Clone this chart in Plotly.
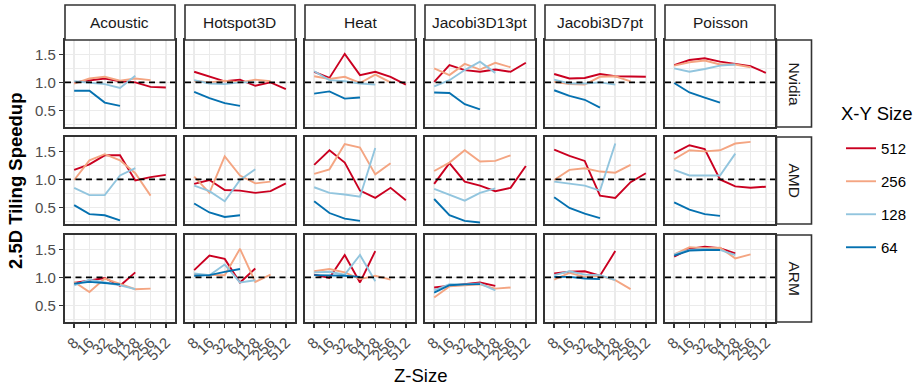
import plotly.graph_objects as go

# ---------------- data ----------------
Z_SIZES = ["8", "16", "32", "64", "128", "256", "512"]
BENCHMARKS = ["Acoustic", "Hotspot3D", "Heat", "Jacobi3D13pt", "Jacobi3D7pt", "Poisson"]
PLATFORMS = ["Nvidia", "AMD", "ARM"]
XY_SIZES = ["512", "256", "128", "64"]
COLORS = ["#CA0020", "#F4A582", "#92C5DE", "#0571B0"]

# each list: one sub-list per benchmark (order of BENCHMARKS), values over Z_SIZES
nvidia_512 = [[1.00, 1.03, 1.07, 1.02, 1.00, 0.92, 0.91],
              [1.19, 1.10, 1.02, 1.05, 0.94, 1.00, 0.88],
              [1.19, 1.08, 1.51, 1.13, 1.19, 1.10, 0.96],
              [1.01, 1.31, 1.22, 1.19, 1.23, 1.19, 1.35],
              [1.15, 1.07, 1.08, 1.15, 1.11, 1.10, 1.10],
              [1.31, 1.40, 1.43, 1.37, 1.33, 1.29, 1.17]]
nvidia_256 = [[0.98, 1.07, 1.10, 1.03, 1.07, 1.04],
              [1.03, 1.00, 1.03, 1.00, 1.05, 1.02],
              [1.11, 1.06, 1.10, 0.99, 1.14, 1.00],
              [1.25, 1.13, 1.33, 1.23, 1.35, 1.27],
              [1.01, 0.97, 0.96, 1.10, 1.11, 1.02],
              [1.30, 1.36, 1.39, 1.32, 1.32, 1.27]]
nvidia_128 = [[1.02, 1.00, 0.97, 0.90, 1.12],
              [1.04, 0.98, 0.97, 1.00, 1.00],
              [1.20, 1.04, 1.02, 0.98, 0.96],
              [0.93, 1.04, 1.22, 1.37, 1.17],
              [1.05, 0.98, 0.98, 1.00, 0.96],
              [1.25, 1.19, 1.24, 1.30, 1.32]]
nvidia_64 = [[0.85, 0.85, 0.64, 0.58],
             [0.83, 0.72, 0.63, 0.58],
             [0.80, 0.84, 0.71, 0.73],
             [0.82, 0.81, 0.61, 0.52],
             [0.86, 0.76, 0.69, 0.55],
             [0.99, 0.82, 0.73, 0.64]]

amd_512 = [[1.17, 1.27, 1.43, 1.43, 0.98, 1.04, 1.08],
           [0.92, 0.99, 0.81, 0.80, 0.76, 0.79, 0.93],
           [1.26, 1.52, 1.30, 0.80, 0.67, 0.85, 0.63],
           [0.92, 1.29, 0.96, 0.89, 0.79, 0.85, 1.24],
           [1.53, 1.42, 1.33, 0.71, 0.67, 0.95, 1.11],
           [1.47, 1.61, 1.54, 1.00, 0.875, 0.85, 0.87]]
amd_256 = [[0.99, 1.34, 1.45, 1.34, 1.11, 0.71],
           [1.05, 0.76, 1.41, 1.07, 0.93, 0.96],
           [1.10, 1.18, 1.63, 1.57, 1.09, 1.29],
           [1.15, 1.30, 1.52, 1.32, 1.33, 1.43],
           [0.99, 1.17, 1.20, 1.14, 1.12, 1.26],
           [1.36, 1.52, 1.50, 1.52, 1.64, 1.67]]
amd_128 = [[0.85, 0.72, 0.72, 1.07, 1.20],
           [0.89, 0.79, 0.61, 0.99, 1.18],
           [0.86, 0.76, 0.73, 0.69, 1.56],
           [0.83, 0.73, 0.62, 0.76, 0.84],
           [0.96, 0.92, 0.89, 0.80, 1.64],
           [1.17, 1.07, 1.07, 1.07, 1.46]]
amd_64 = [[0.54, 0.38, 0.36, 0.27],
          [0.57, 0.41, 0.33, 0.36],
          [0.61, 0.40, 0.30, 0.26],
          [0.65, 0.36, 0.26, 0.23],
          [0.68, 0.49, 0.39, 0.31],
          [0.59, 0.46, 0.38, 0.35]]

arm_512 = [[0.90, 0.95, 0.99, 0.85, 1.09],
           [1.13, 1.39, 1.33, 0.91, 1.16],
           [1.05, 0.99, 1.40, 0.91, 1.47],
           [0.82, 0.85, 0.88, 0.91, 0.85],
           [1.07, 1.10, 1.11, 1.03, 1.47],
           [1.37, 1.51, 1.55, 1.52, 1.43]]
arm_256 = [[0.92, 0.74, 0.98, 0.89, 0.79, 0.80],
           [1.05, 1.04, 1.04, 1.51, 0.92, 1.05],
           [1.11, 1.15, 1.09, 0.97, 1.03, 0.96],
           [0.64, 0.84, 0.86, 0.875, 0.80, 0.82],
           [0.96, 1.08, 1.01, 1.03, 0.95, 0.79],
           [1.41, 1.54, 1.52, 1.53, 1.34, 1.41]]
arm_128 = [[0.86, 0.96, 0.91, 0.86, 0.79],
           [1.07, 1.04, 1.23, 0.91, 0.95],
           [1.09, 1.10, 1.05, 1.40, 0.93],
           [0.77, 0.88, 0.875, 0.89, 0.77],
           [1.04, 1.11, 1.05, 1.04, 0.95],
           [1.41, 1.49, 1.51, 1.49, 1.40]]
arm_64 = [[0.89, 0.92, 0.90, 0.875],
          [1.03, 1.04, 1.10, 1.15],
          [1.04, 1.04, 1.03, 1.01],
          [0.73, 0.86, 0.875, 0.88],
          [1.01, 1.01, 0.98, 0.97],
          [1.39, 1.48, 1.49, 1.49]]

PLATFORM_DATA = [
    [nvidia_512, nvidia_256, nvidia_128, nvidia_64],
    [amd_512, amd_256, amd_128, amd_64],
    [arm_512, arm_256, arm_128, arm_64],
]

Y_TICKS = [0.5, 1.0, 1.5]
Y_TICK_TEXT = ["0.5", "1.0", "1.5"]

# ---------------- layout geometry ----------------
W, H = 923, 389
FONT = "Liberation Sans, Arial, Helvetica, sans-serif"
PANEL_W, PANEL_H = 110, 87
COL_LEFT = [65 + 120 * i for i in range(6)]
ROW_TOP = [40, 137, 235]
BORDER = "#333333"
GRID = "#EBEBEB"
TICK_SIZE = 15
STRIP_SIZE = 15.5
TITLE_SIZE = 18.5


def px_x(x):
    return x / W


def px_y(y):
    return 1 - y / H


fig = go.Figure()
layout_axes = {}
shapes = []
annotations = []

for r, plat in enumerate(PLATFORMS):
    for c, bench in enumerate(BENCHMARKS):
        k = r * 6 + c + 1
        xs = "" if k == 1 else str(k)
        xname, yname = "x" + xs, "y" + xs
        for s, size in enumerate(XY_SIZES):
            yv = PLATFORM_DATA[r][s][c]
            fig.add_trace(go.Scatter(
                x=Z_SIZES[:len(yv)], y=yv, mode="lines",
                line=dict(color=COLORS[s], width=1.9),
                name=size, legendgroup=size,
                showlegend=(k == 1),
                xaxis=xname, yaxis=yname,
            ))
        bottom = r == 2
        left = c == 0
        layout_axes["xaxis" + xs] = dict(
            domain=[px_x(COL_LEFT[c]), px_x(COL_LEFT[c] + PANEL_W)],
            anchor=yname, type="category",
            categoryorder="array", categoryarray=Z_SIZES,
            range=[-0.6, 6.6], automargin=False,
            tickmode="array", tickvals=Z_SIZES, ticktext=Z_SIZES,
            showgrid=True, gridcolor=GRID, gridwidth=1.8,
            showline=True, linecolor=BORDER, linewidth=1.6, mirror=True,
            zeroline=False,
            ticks="outside" if bottom else "", ticklen=4.5, tickwidth=1.4, tickcolor=BORDER,
            showticklabels=bottom, tickangle=-45,
            tickfont=dict(family=FONT, size=TICK_SIZE, color="#4D4D4D"),
            fixedrange=True,
        )
        layout_axes["yaxis" + xs] = dict(
            domain=[px_y(ROW_TOP[r] + PANEL_H), px_y(ROW_TOP[r])],
            anchor=xname, range=[0.204, 1.757], automargin=False,
            tickmode="array", tickvals=Y_TICKS, ticktext=Y_TICK_TEXT,
            showgrid=True, gridcolor=GRID, gridwidth=1.8,
            minor=dict(tickvals=[0.25, 0.75, 1.25, 1.75], showgrid=True,
                       gridcolor=GRID, gridwidth=0.9, ticks=""),
            showline=True, linecolor=BORDER, linewidth=1.6, mirror=True,
            zeroline=False,
            ticks="outside" if left else "", ticklen=4.5, tickwidth=1.4, tickcolor=BORDER,
            showticklabels=left,
            tickfont=dict(family=FONT, size=TICK_SIZE, color="#4D4D4D"),
            fixedrange=True,
        )
        # reference line at speedup 1.0
        shapes.append(dict(
            type="line", xref=xname + " domain", yref=yname,
            x0=0, x1=1, y0=1.0, y1=1.0, layer="above",
            line=dict(color="black", width=1.6, dash="6px,4.5px"),
        ))

# column strips
STRIP_TOP = 5
for c, bench in enumerate(BENCHMARKS):
    shapes.append(dict(type="rect", xref="paper", yref="paper",
                       x0=px_x(COL_LEFT[c]), x1=px_x(COL_LEFT[c] + PANEL_W),
                       y0=px_y(ROW_TOP[0]), y1=px_y(STRIP_TOP),
                       fillcolor="white", line=dict(color=BORDER, width=1.6), layer="above"))
    annotations.append(dict(text=bench, xref="paper", yref="paper",
                            x=px_x(COL_LEFT[c] + PANEL_W / 2),
                            y=px_y((STRIP_TOP + ROW_TOP[0]) / 2),
                            showarrow=False, xanchor="center", yanchor="middle",
                            font=dict(family=FONT, size=STRIP_SIZE, color="#1A1A1A")))

# row strips
STRIP_L = COL_LEFT[5] + PANEL_W + 1.5
STRIP_R = STRIP_L + 35
for r, plat in enumerate(PLATFORMS):
    shapes.append(dict(type="rect", xref="paper", yref="paper",
                       x0=px_x(STRIP_L), x1=px_x(STRIP_R),
                       y0=px_y(ROW_TOP[r] + PANEL_H), y1=px_y(ROW_TOP[r]),
                       fillcolor="white", line=dict(color=BORDER, width=1.6), layer="above"))
    annotations.append(dict(text=plat, xref="paper", yref="paper",
                            x=px_x((STRIP_L + STRIP_R) / 2),
                            y=px_y(ROW_TOP[r] + PANEL_H / 2),
                            showarrow=False, textangle=90,
                            xanchor="center", yanchor="middle",
                            font=dict(family=FONT, size=STRIP_SIZE, color="#1A1A1A")))

# axis titles
annotations.append(dict(text="Z-Size", xref="paper", yref="paper",
                        x=px_x((COL_LEFT[0] + COL_LEFT[5] + PANEL_W) / 2), y=px_y(375),
                        showarrow=False, xanchor="center", yanchor="middle",
                        font=dict(family=FONT, size=TITLE_SIZE, color="black")))
annotations.append(dict(text="<b>2.5D Tiling Speedup</b>", xref="paper", yref="paper",
                        x=px_x(15), y=px_y((ROW_TOP[0] + ROW_TOP[2] + PANEL_H) / 2),
                        showarrow=False, textangle=-90, xanchor="center", yanchor="middle",
                        font=dict(family=FONT, size=TITLE_SIZE, color="black")))
# legend title
annotations.append(dict(text="X-Y Size", xref="paper", yref="paper",
                        x=px_x(839), y=px_y(113),
                        showarrow=False, xanchor="left", yanchor="middle",
                        font=dict(family=FONT, size=TITLE_SIZE, color="black")))

fig.update_layout(
    width=W, height=H,
    margin=dict(l=0, r=0, t=0, b=0, autoexpand=False),
    paper_bgcolor="white", plot_bgcolor="white",
    font=dict(family=FONT, color="black"),
    shapes=shapes, annotations=annotations,
    showlegend=True,
    legend=dict(
        x=px_x(841), y=px_y(132), xanchor="left", yanchor="top",
        traceorder="grouped", tracegroupgap=10.5,
        font=dict(family=FONT, size=TICK_SIZE, color="black"),
        bgcolor="rgba(0,0,0,0)", itemwidth=30,
    ),
    **layout_axes,
)

fig.write_html(
    "out.html",
    config={"displayModeBar": False, "staticPlot": True},
    post_script="document.body.style.margin='0';document.body.style.overflow='hidden';",
)
